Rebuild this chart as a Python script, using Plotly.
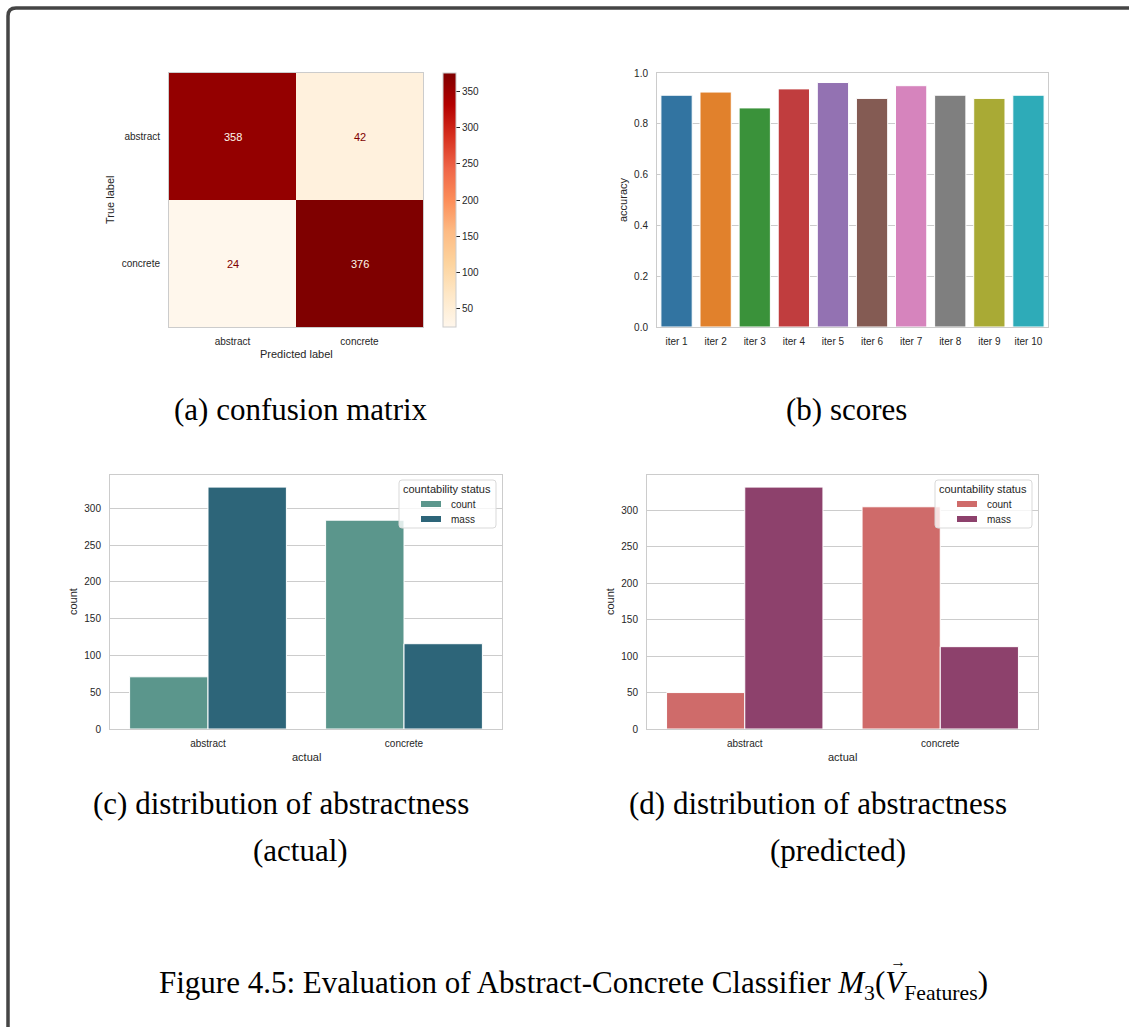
import plotly.graph_objects as go

W, H = 1129, 1027

# ---- data -------------------------------------------------------------
classes = ["abstract", "concrete"]
confusion = [[358, 42],
             [24, 376]]

iterations = ["iter 1", "iter 2", "iter 3", "iter 4", "iter 5",
              "iter 6", "iter 7", "iter 8", "iter 9", "iter 10"]
accuracy = [0.9125, 0.925, 0.8625, 0.9375, 0.9625, 0.9, 0.95, 0.9125, 0.9, 0.9125]
iter_colors = ["#3274a1", "#e1812c", "#3a923a", "#c03d3e", "#9372b2",
               "#845b53", "#d684bd", "#7f7f7f", "#a9aa35", "#2eabb8"]

status_labels = ["count", "mass"]
actual_count = [71, 284]
actual_mass = [329, 116]
actual_colors = ["#5b968c", "#2d6579"]

pred_count = [50, 305]
pred_mass = [332, 113]
pred_colors = ["#cf6b6a", "#8d416c"]

# ---- helpers ------------------------------------------------------------
def fx(px):
    return px / W


def fy(py):
    return 1 - py / H


SANS = "Liberation Sans, Arial, sans-serif"
SERIF = "Liberation Serif, Times New Roman, serif"
TXT = "#262626"
SPINE = "#cccccc"

fig = go.Figure()
annotations = []
shapes = []


def axis_style(**kw):
    base = dict(showline=True, mirror=True, linecolor=SPINE, linewidth=1,
                ticks="outside", ticklen=6, tickcolor="rgba(0,0,0,0)",
                tickfont=dict(family=SANS, size=10, color=TXT),
                zeroline=False, showgrid=False, fixedrange=True)
    base.update(kw)
    return base


def label(text, x, y, size=11, angle=0, family=SANS, color=TXT, xanchor="center"):
    annotations.append(dict(text=text, x=fx(x), y=fy(y), xref="paper", yref="paper",
                            showarrow=False, textangle=angle, xanchor=xanchor,
                            yanchor="middle",
                            font=dict(family=family, size=size, color=color)))


def round_rect(x0, y0, x1, y1, r):
    """Rounded rectangle path in paper coordinates from pixel corners."""
    return (f"M {fx(x0 + r)},{fy(y0)} L {fx(x1 - r)},{fy(y0)} "
            f"Q {fx(x1)},{fy(y0)} {fx(x1)},{fy(y0 + r)} L {fx(x1)},{fy(y1 - r)} "
            f"Q {fx(x1)},{fy(y1)} {fx(x1 - r)},{fy(y1)} L {fx(x0 + r)},{fy(y1)} "
            f"Q {fx(x0)},{fy(y1)} {fx(x0)},{fy(y1 - r)} L {fx(x0)},{fy(y0 + r)} "
            f"Q {fx(x0)},{fy(y0)} {fx(x0 + r)},{fy(y0)} Z")


# ---- (a) confusion matrix ----------------------------------------------
zmin = min(min(r) for r in confusion)
zmax = max(max(r) for r in confusion)
fig.add_trace(go.Heatmap(
    z=confusion, x=classes, y=classes, colorscale="OrRd", zmin=zmin, zmax=zmax,
    xaxis="x", yaxis="y", hoverinfo="skip",
    colorbar=dict(x=fx(443), xanchor="left", y=fy(73), yanchor="top",
                  lenmode="pixels", len=254, thicknessmode="pixels", thickness=13,
                  xpad=0, ypad=0, outlinecolor=SPINE, outlinewidth=1,
                  tickvals=[50, 100, 150, 200, 250, 300, 350],
                  ticks="outside", ticklen=4, tickcolor=TXT, tickwidth=1,
                  tickfont=dict(family=SANS, size=10, color=TXT)),
))
mid = (zmin + zmax) / 2
for i, row in enumerate(confusion):
    for j, v in enumerate(row):
        annotations.append(dict(text=str(v), x=classes[j], y=classes[i], xref="x", yref="y",
                                showarrow=False,
                                font=dict(family=SANS, size=11,
                                          color="#fff7ec" if v > mid else "#7f0000")))

fig.update_layout(
    xaxis=axis_style(domain=[fx(169), fx(423)], anchor="y", ticklen=5),
    yaxis=axis_style(domain=[fy(327), fy(73)], anchor="x", autorange="reversed"),
)
label("Predicted label", 296, 354)
label("True label", 110, 200, angle=-90)

# ---- (b) scores ---------------------------------------------------------
fig.add_trace(go.Bar(
    x=iterations, y=accuracy, xaxis="x2", yaxis="y2",
    marker=dict(color=iter_colors, line=dict(color="white", width=1)),
    showlegend=False, hoverinfo="skip",
))
fig.update_layout(
    xaxis2=axis_style(domain=[fx(657), fx(1048)], anchor="y2", ticklen=5),
    yaxis2=axis_style(domain=[fy(327), fy(73)], anchor="x2", range=[0, 1.0],
                      dtick=0.2, tickformat=".1f", showgrid=True,
                      gridcolor=SPINE, gridwidth=1),
)
label("accuracy", 623, 200, angle=-90)

# ---- (c) / (d) distributions -------------------------------------------
def dist_panel(ax, counts, masses, colors, left, right, leg_left):
    xa, ya = f"x{ax}", f"y{ax}"
    for name, vals, col in zip(status_labels, [counts, masses], colors):
        fig.add_trace(go.Bar(
            x=classes, y=vals, name=name, xaxis=xa, yaxis=ya,
            marker=dict(color=col, line=dict(color="white", width=1)),
            showlegend=False, hoverinfo="skip",
        ))
    top = max(counts + masses) * 1.05
    fig.update_layout(**{
        f"xaxis{ax}": axis_style(domain=[fx(left), fx(right)], anchor=ya, ticklen=5),
        f"yaxis{ax}": axis_style(domain=[fy(729), fy(475)], anchor=xa, range=[0, top],
                                 dtick=50, showgrid=True, gridcolor=SPINE, gridwidth=1),
    })
    # legend box
    shapes.append(dict(type="path", xref="paper", yref="paper",
                       path=round_rect(leg_left, 480, leg_left + 97, 528, 3),
                       line=dict(color="#d9d9d9", width=1),
                       fillcolor="rgba(255,255,255,0.8)", layer="above"))
    label("countability status", leg_left + 48, 489, size=11)
    for k, (name, col) in enumerate(zip(status_labels, colors)):
        yc = 504 + 15 * k
        shapes.append(dict(type="rect", xref="paper", yref="paper",
                           x0=fx(leg_left + 22), x1=fx(leg_left + 42),
                           y0=fy(yc + 3), y1=fy(yc - 3),
                           line=dict(width=0), fillcolor=col, layer="above"))
        label(name, leg_left + 50, yc, size=10, xanchor="left")
    label("count", left - 37, 602, angle=-90)
    label("actual", (left + right) / 2, 757)


dist_panel(3, actual_count, actual_mass, actual_colors, 110, 502, 399)
dist_panel(4, pred_count, pred_mass, pred_colors, 647, 1038, 935)

# ---- captions -----------------------------------------------------------
CAP = 31
label("(a) confusion matrix", 301, 409, size=CAP, family=SERIF, color="black")
label("(b) scores", 846, 409, size=CAP, family=SERIF, color="black")
label("(c) distribution of abstractness", 281, 803, size=CAP, family=SERIF, color="black")
label("(actual)", 300, 850, size=CAP, family=SERIF, color="black")
label("(d) distribution of abstractness", 818, 803, size=CAP, family=SERIF, color="black")
label("(predicted)", 838, 850, size=CAP, family=SERIF, color="black")

# figure caption; the vector arrow is raised over V and its advance cancelled
vec_arrow = ("<span style='font-size:16px;baseline-shift:26px;"
             "letter-spacing:-21px'>\u2192</span>")
label("Figure 4.5: Evaluation of Abstract-Concrete Classifier "
      "<i>M</i><sub>3</sub><span style='letter-spacing:5px'>(</span>"
      + vec_arrow + "<i>V</i><sub>Features</sub>)",
      573, 983, size=CAP, family=SERIF, color="black")

# ---- outer frame with rounded corner ------------------------------------
x0, y0, x1, y1, r = 8, 8, 1150, 1050, 8
frame = (f"M {fx(x0)},{fy(y1)} L {fx(x0)},{fy(y0 + r)} "
         f"Q {fx(x0)},{fy(y0)} {fx(x0 + r)},{fy(y0)} L {fx(x1)},{fy(y0)}")
shapes.append(dict(type="path", xref="paper", yref="paper", path=frame,
                   line=dict(color="#454545", width=3.5)))

fig.update_layout(
    width=W, height=H,
    margin=dict(l=0, r=0, t=0, b=0, autoexpand=False),
    paper_bgcolor="white", plot_bgcolor="white",
    barmode="group", bargap=0.2, bargroupgap=0,
    annotations=annotations, shapes=shapes, showlegend=False,
)

fig.write_html("out.html", config={"displayModeBar": False})
